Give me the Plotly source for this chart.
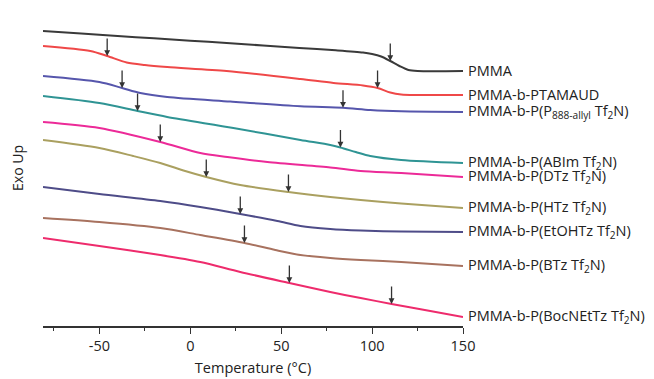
import numpy as np
import plotly.graph_objects as go

# Temperatures (°C) and vertical trace positions (arbitrary heat-flow units, larger = lower on plot)
names = [
    "PMMA",
    "PMMA-b-PTAMAUD",
    "PMMA-b-P(P<sub>888-allyl</sub> Tf<sub>2</sub>N)",
    "PMMA-b-P(ABIm Tf<sub>2</sub>N)",
    "PMMA-b-P(DTz Tf<sub>2</sub>N)",
    "PMMA-b-P(HTz Tf<sub>2</sub>N)",
    "PMMA-b-P(EtOHTz Tf<sub>2</sub>N)",
    "PMMA-b-P(BTz Tf<sub>2</sub>N)",
    "PMMA-b-P(BocNEtTz Tf<sub>2</sub>N)",
]
colors = ["#3a3a3a", "#ef4848", "#5656ac", "#2f9494", "#ec2a98",
          "#aaa060", "#4e4c88", "#a8725f", "#ee2b6c"]

t_pmma = [-81, -60, -40, -20, 0, 20, 40, 60, 80, 95, 100, 105, 110, 115, 120, 125, 150]
y_pmma = [31, 33.5, 36, 38.3, 40.7, 43, 45.5, 48, 50.3, 52.5, 54, 56.5, 61, 66, 70, 71, 71]

t_ptam = [-81, -55, -45.7, -35, -25, -12.7, 20, 60.6, 78.8, 95, 103, 110, 116, 125, 150]
y_ptam = [46, 51, 56, 62.5, 65, 67, 71, 79, 83, 85.5, 88, 92.5, 94.5, 95, 95]

t_p888 = [-81, -50, -37.5, -27.5, -12.7, 22, 60.6, 84, 99, 116, 150]
y_p888 = [76, 82, 88, 93, 97, 101.5, 106.2, 107.8, 110, 111.3, 112]

t_abim = [-81, -50, -29, -12.7, 23.7, 60.6, 77, 82.6, 91, 99, 116, 150]
y_abim = [96, 103, 111, 117, 128, 140, 145, 147.5, 152, 156, 160, 163]

t_dtz = [-81, -50, -16.5, 5.5, 20.4, 42.4, 77, 93.7, 116, 150]
y_dtz = [122, 128, 142, 153, 157, 162, 167.5, 171, 173, 177]

t_htz = [-81, -50, -31.4, -16.5, -2.8, 8.8, 27.5, 54, 77, 93.7, 116, 150]
y_htz = [140, 148, 156, 163, 171, 177, 185, 192, 197, 200, 203.5, 208]

t_etoh = [-81, -50, -16.5, 5.5, 27.5, 47.9, 60.6, 77, 93.7, 116, 150]
y_etoh = [187, 194, 201, 207, 214, 221, 226, 229, 230.5, 231.5, 232]

t_btz = [-81, -50, -16.5, 5.5, 29.8, 46.8, 60.6, 77, 93.7, 116, 150]
y_btz = [218, 222, 228, 235, 243, 250, 255, 258, 260, 262, 266]

t_boc = [-81, -50, -16.5, 5.5, 27.5, 54.5, 77, 93.7, 110.7, 132, 150]
y_boc = [238, 246, 255, 262, 272, 283, 292, 298, 304, 311, 317]

temps = [t_pmma, t_ptam, t_p888, t_abim, t_dtz, t_htz, t_etoh, t_btz, t_boc]
vals = [y_pmma, y_ptam, y_p888, y_abim, y_dtz, y_htz, y_etoh, y_btz, y_boc]

# Tg arrows: (curve index, temperature)
arrow_curve = [0, 1, 1, 2, 2, 3, 3, 4, 5, 5, 6, 7, 8, 8]
arrow_temp = [110, -45.7, 103, -37.5, 84, -29, 82.6, -16.5, 8.8, 54, 27.5, 29.8, 54.5, 110.7]

x_ticks = [-50, 0, 50, 100, 150]
x_tick_labels = ["-50", "0", "50", "100", "150"]
x_minor = [-75, -25, 25, 75, 125]
x_range = [-81, 150]

fig = go.Figure()
for t, v, c in zip(temps, vals, colors):
    fig.add_trace(go.Scatter(x=t, y=v, mode="lines",
                             line=dict(color=c, width=2, shape="spline", smoothing=0.8),
                             showlegend=False, hoverinfo="skip"))

font_main = "Open Sans, Noto Sans, DejaVu Sans, sans-serif"

for name, t, v in zip(names, temps, vals):
    fig.add_annotation(x=t[-1], y=v[-1], text=name, showarrow=False,
                       xanchor="left", yanchor="middle", xshift=3, yshift=1,
                       font=dict(size=14.5, color="#222", family=font_main))

for ci, at in zip(arrow_curve, arrow_temp):
    yt = float(np.interp(at, temps[ci], vals[ci]))
    fig.add_annotation(x=at, y=yt, ax=0, ay=-19, axref="pixel", ayref="pixel",
                       showarrow=True, arrowhead=2, arrowsize=0.9, arrowwidth=1.3,
                       arrowcolor="#333", text="")

fig.update_layout(
    width=646, height=371,
    margin=dict(l=35, r=191, t=2, b=53),
    paper_bgcolor="white", plot_bgcolor="white",
    font=dict(family=font_main, size=14, color="#222"),
    xaxis=dict(range=x_range, tickvals=x_ticks, ticktext=x_tick_labels,
               ticks="outside", ticklen=6, automargin=False,
               tickwidth=1.3, tickcolor="#333", showline=True, linecolor="#333",
               linewidth=1.5, showgrid=False, zeroline=False,
               minor=dict(tickvals=x_minor, ticks="outside",
                          ticklen=3, tickcolor="#333", tickwidth=1.3),
               title=dict(text="Temperature (°C)", font=dict(size=14.5), standoff=9),
               tickfont=dict(size=14.5)),
    yaxis=dict(range=[326, 10], showticklabels=False, showgrid=False,
               zeroline=False, showline=False, ticks="", automargin=False,
               title=dict(text="Exo Up", font=dict(size=14), standoff=16)),
)

fig.write_html("out.html")
